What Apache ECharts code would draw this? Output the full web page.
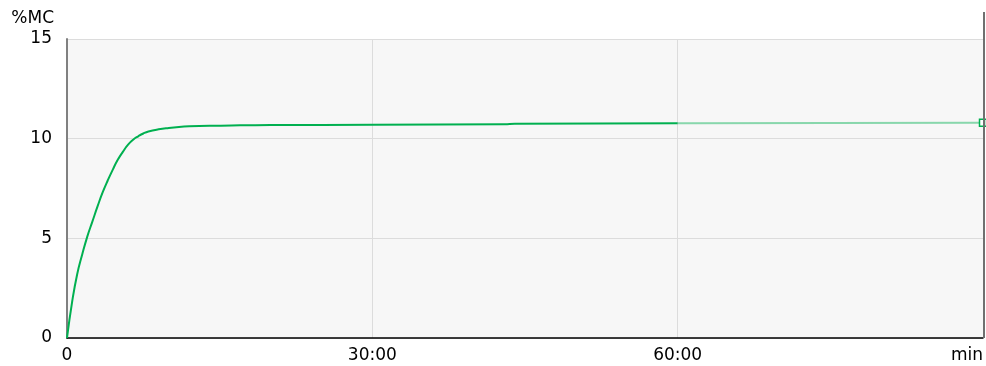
<!DOCTYPE html>
<html>
<head>
<meta charset="utf-8">
<script src="https://cdn.jsdelivr.net/npm/echarts@6/dist/echarts.min.js"></script>
<style>
html,body{margin:0;padding:0;background:#fff;}
#chart{width:986px;height:366px;}
</style>
</head>
<body>
<div id="chart"></div>
<script>
// Moisture content (%MC) over time in minutes
const timeMeasured = [0, 0.5, 1, 1.5, 2, 2.5, 3, 3.5, 4, 4.5, 5, 5.5, 6, 6.5, 7, 7.5, 8, 9, 10, 11, 12, 14, 17, 20, 30, 43, 44, 60];
const mcMeasured   = [0, 1.8, 3.2, 4.2, 5.1, 5.85, 6.6, 7.3, 7.9, 8.45, 8.95, 9.35, 9.7, 9.95, 10.12, 10.26, 10.36, 10.47, 10.54, 10.59, 10.62, 10.65, 10.67, 10.68, 10.7, 10.72, 10.75, 10.77];
const timeProjected = [60, 90];
const mcProjected   = [10.77, 10.8];
const xTicks = [0, 30, 60, 90];
const xTickLabels = ['0', '30:00', '60:00', 'min'];
const yTicks = [0, 5, 10, 15];

const FONT = 'DejaVu Sans';
const GREEN = '#00b050';

const chart = echarts.init(document.getElementById('chart'));
chart.setOption({
  animation: false,
  textStyle: { fontFamily: FONT },
  grid: {
    left: 67, right: 2, top: 39, bottom: 28,
    show: true, backgroundColor: '#f7f7f7', borderWidth: 0
  },
  xAxis: {
    type: 'value',
    min: xTicks[0], max: xTicks[xTicks.length - 1], interval: 30,
    axisLine: { lineStyle: { color: '#000', width: 1.5 } },
    axisTick: { show: false },
    splitLine: { show: true, lineStyle: { color: '#dcdcdc', width: 1 } },
    axisLabel: {
      color: '#000', fontSize: 17, fontFamily: FONT, margin: 9,
      alignMaxLabel: 'right',
      formatter: v => xTickLabels[xTicks.indexOf(v)] ?? ''
    }
  },
  yAxis: [{
    type: 'value',
    min: yTicks[0], max: yTicks[yTicks.length - 1], interval: 5,
    name: '%MC',
    nameLocation: 'end',
    nameGap: 12,
    nameTextStyle: { color: '#000', fontSize: 17, fontFamily: FONT, align: 'right', padding: [0, 13, 0, 0] },
    axisLine: { show: true, lineStyle: { color: '#808080', width: 2 } },
    axisTick: { show: false },
    splitLine: { show: true, lineStyle: { color: '#dcdcdc', width: 1 } },
    axisLabel: { color: '#000', fontSize: 17, fontFamily: FONT, margin: 15 }
  }],
  series: [{
    type: 'line',
    data: timeMeasured.map((t, i) => [t, mcMeasured[i]]),
    smooth: 0.5,
    showSymbol: false,
    lineStyle: { color: GREEN, width: 2 },
    z: 3
  }, {
    type: 'line',
    data: timeProjected.map((t, i) => ({
      value: [t, mcProjected[i]],
      symbol: i === timeProjected.length - 1 ? 'rect' : 'none'
    })),
    showSymbol: true,
    symbolSize: 7,
    itemStyle: { color: '#fff', borderColor: GREEN, borderWidth: 1.5 },
    lineStyle: { color: GREEN, width: 2, opacity: 0.45 },
    z: 3
  }]
});

// Right-hand frame line, extending above the plot top
const pBot = chart.convertToPixel({ gridIndex: 0 }, [90, 0]);
chart.setOption({
  graphic: [{
    type: 'line',
    shape: { x1: pBot[0] + 1, y1: 12, x2: pBot[0] + 1, y2: pBot[1] },
    style: { stroke: '#707070', lineWidth: 2 },
    z: 10
  }]
});
</script>
</body>
</html>
